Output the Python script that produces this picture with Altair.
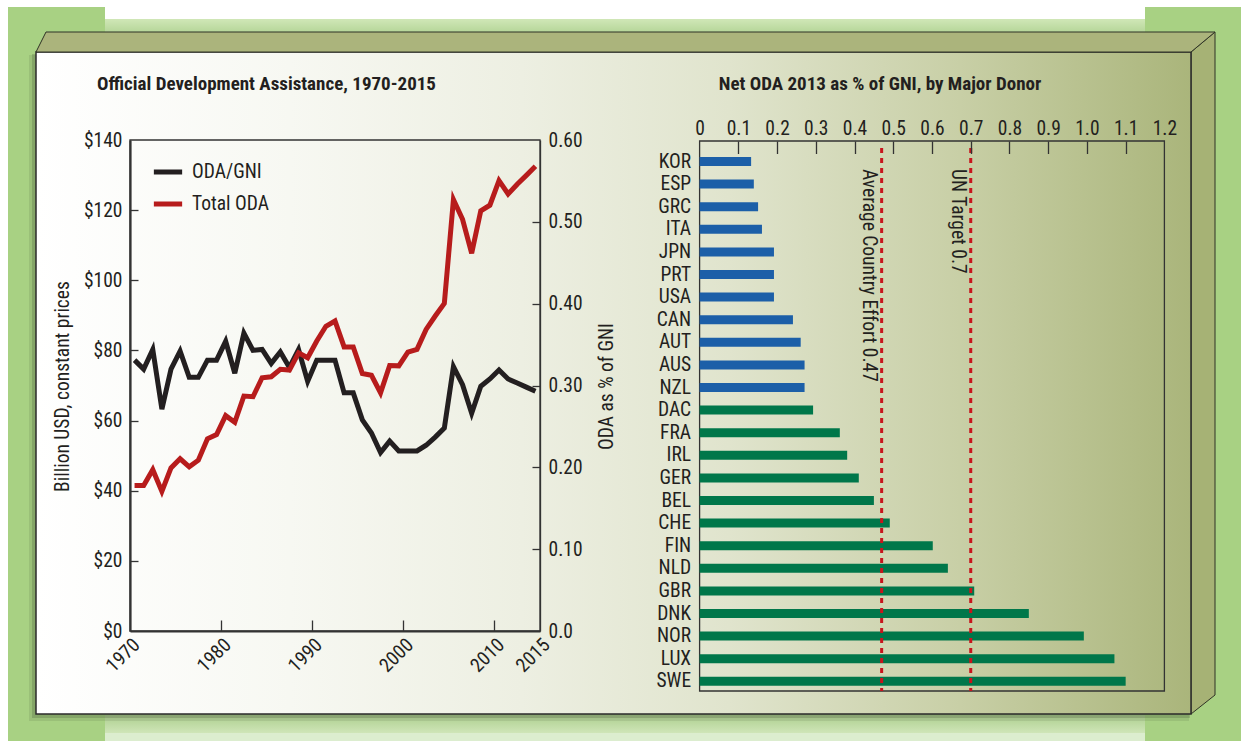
import altair as alt
import pandas as pd

# ---------------- chart values ----------------
YEARS = list(range(1970, 2015))
TOTAL_ODA = [41.5, 41.5, 46.0, 39.8, 46.5, 49.1, 46.8, 48.7, 54.8, 56.0,
             61.4, 59.5, 67.0, 66.8, 72.2, 72.5, 74.6, 74.4, 79.3, 77.9,
             82.7, 86.9, 88.4, 81.0, 81.0, 73.4, 72.9, 67.9, 75.7, 75.6,
             79.5, 80.3, 86.0, 89.8, 93.4, 123.0, 117.4, 107.7, 119.8, 121.4,
             128.4, 124.6, 127.4, 129.9, 132.5]
ODA_GNI = [0.331, 0.320, 0.344, 0.271, 0.320, 0.342, 0.310, 0.310, 0.331, 0.331,
           0.354, 0.315, 0.364, 0.343, 0.344, 0.327, 0.341, 0.322, 0.344, 0.305,
           0.331, 0.331, 0.331, 0.291, 0.291, 0.258, 0.242, 0.218, 0.232, 0.220,
           0.220, 0.220, 0.227, 0.237, 0.248, 0.323, 0.301, 0.266, 0.299, 0.308,
           0.319, 0.308, 0.303, 0.298, 0.293]
SERIES = ["ODA/GNI", "Total ODA"]
YEAR_TICKS = [1970, 1980, 1990, 2000, 2010, 2015]
USD_TICKS = [0, 20, 40, 60, 80, 100, 120, 140]
PCT_TICKS = [0.0, 0.1, 0.2, 0.3, 0.4, 0.5, 0.6]

DONORS = ["KOR", "ESP", "GRC", "ITA", "JPN", "PRT", "USA", "CAN", "AUT", "AUS", "NZL",
          "DAC", "FRA", "IRL", "GER", "BEL", "CHE", "FIN", "NLD", "GBR", "DNK", "NOR",
          "LUX", "SWE"]
NET_ODA_2013 = [0.133, 0.140, 0.151, 0.161, 0.192, 0.192, 0.192, 0.241, 0.261, 0.271,
                0.271, 0.293, 0.362, 0.381, 0.411, 0.450, 0.491, 0.602, 0.641, 0.709,
                0.850, 0.992, 1.071, 1.100]
DAC_VALUE = NET_ODA_2013[DONORS.index("DAC")]
GNI_TICKS = [0, 0.1, 0.2, 0.3, 0.4, 0.5, 0.6, 0.7, 0.8, 0.9, 1.0, 1.1, 1.2]
REF_VALUES = [0.47, 0.70]
REF_LABELS = ["Average Country Effort  0.47", "UN Target 0.7"]

TITLE_LEFT = "Official Development Assistance, 1970-2015"
TITLE_RIGHT = "Net ODA 2013 as % of GNI, by Major Donor"
Y_LEFT_TITLE = "Billion USD, constant prices"
Y_RIGHT_TITLE = "ODA as % of GNI"

# ---------------- layout & style ----------------
W, H = 1241, 741
FONT = "Liberation Sans Narrow, Roboto Condensed, DejaVu Sans Condensed, Arial Narrow, sans-serif"
INK = "#231f20"
FRAME = "#333333"
BLACK_LINE = "#231f20"
RED_LINE = "#b71c1c"
BLUE = "#1c5fa8"
GREEN = "#00774a"
REF_RED = "#c8151d"
LABEL_SIZE = 19.5
TITLE_SIZE = 19

LX0, LX1, LY0, LY1 = 130, 540, 140, 631          # left plot box
RX0, RX1, RY0, RY1 = 699.6, 1164.4, 141, 691     # right plot box

year_scale = alt.Scale(domain=[1970, 2015], range=[LX0, LX1], nice=False, zero=False)
usd_scale = alt.Scale(domain=[0, 140], range=[LY1, LY0], nice=False, zero=False)
pct_scale = alt.Scale(domain=[0, 0.6], range=[LY1, LY0], nice=False, zero=False)
gni_scale = alt.Scale(domain=[0, 1.2], range=[RX0, RX1], nice=False, zero=False)
donor_scale = alt.Scale(range=[150.2, 692.6], paddingInner=0.6, paddingOuter=0.3)


def ax(**kw):
    base = dict(grid=False, zindex=1, labelFont=FONT, labelColor=INK, labelFontSize=LABEL_SIZE,
                labelFlush=False, labelOverlap=False, titleFont=FONT, titleColor=INK,
                tickColor=FRAME, tickWidth=1.3, domainColor=FRAME)
    base.update(kw)
    return alt.Axis(**base)


bottom_axis = ax(orient="bottom", offset=LY1 - H, values=YEAR_TICKS, format="d",
                 labelAngle=315, labelPadding=4, ticks=False, tickSize=0,
                 domain=True, domainWidth=2.2, title=None)
left_axis = ax(orient="left", offset=-LX0, values=USD_TICKS, format="$.0f",
               labelPadding=8, ticks=False, tickSize=0, domain=True, domainWidth=2.2,
               title=Y_LEFT_TITLE, titleFontSize=LABEL_SIZE, titleFontWeight="normal",
               titleAngle=270, titleBaseline="bottom", titleAlign="center",
               titleX=-58, titleY=386)
right_axis = ax(orient="right", offset=LX1 - W, values=PCT_TICKS,
                labelExpr="datum.value == 0 ? '0.0' : format(datum.value, '.2f')",
                labelPadding=8, ticks=False, tickSize=0, domain=True, domainWidth=1.3,
                title=Y_RIGHT_TITLE, titleFontSize=LABEL_SIZE, titleFontWeight="normal",
                titleAngle=270, titleBaseline="bottom", titleAlign="center",
                titleX=76, titleY=386)
in_bottom = ax(orient="bottom", offset=LY1 - 11 - H, values=YEAR_TICKS[1:-1],
               labels=False, domain=False, tickSize=11, title=None)
in_left = ax(orient="left", offset=-(LX0 + 8), values=USD_TICKS[1:-1],
             labels=False, domain=False, tickSize=8, title=None)
in_right = ax(orient="right", offset=(LX1 - 8) - W, values=PCT_TICKS[1:-1],
              labels=False, domain=False, tickSize=8, title=None)
top_axis = ax(orient="top", offset=-RY0, values=GNI_TICKS,
              labelExpr="datum.value == 0 ? '0' : format(datum.value, '.1f')",
              labelPadding=3, ticks=False, tickSize=0, domain=False, title=None)
in_top = ax(orient="top", offset=-(RY0 + 12.5), values=GNI_TICKS[1:-1],
            labels=False, domain=False, tickSize=12.5, title=None)
donor_axis = ax(orient="left", offset=-RX0, labelPadding=9, ticks=False, tickSize=0,
                domain=False, title=None, labelAlign="right")

dummy = pd.DataFrame({"k": [0]})


def box(x0, x1, y0, y1, **mk):
    return alt.Chart(dummy).mark_rect(**mk).encode(
        x=alt.value(x0), x2=alt.value(x1), y=alt.value(y0), y2=alt.value(y1))


def grad(stops, vertical=False):
    return alt.LinearGradient(
        gradient="linear",
        stops=[alt.GradientStop(offset=o, color=c) for o, c in stops],
        x1=0, y1=0, x2=0 if vertical else 1, y2=1 if vertical else 0)


def poly(df, **mk):
    return alt.Chart(df).mark_area(**mk).encode(
        x=alt.X("px:Q", scale=None, axis=None),
        y=alt.Y("top:Q", scale=None, axis=None),
        y2="bot:Q")


# ---------------- decoration (the 3D panel) ----------------
deco = [
    box(8, 105, 7, H, fill="#a8d183"),
    box(1145, W, 7, H, fill="#a8d183"),
    box(105, 1145, 19, 33, fill=grad([(0, "#d0e7b7"), (1, "#b4d597")], vertical=True)),
    box(105, 1145, 713, 733, fill=grad([(0, "#a9cd8a"), (1, "#cfe5b8")], vertical=True)),
    box(105, 1145, 733, H, fill="#dcedcf"),
    box(29, 1189, 55, 721, fill="#000000", opacity=0.08),
    box(32, 1190, 54, 718, fill="#000000", opacity=0.14),
    poly(pd.DataFrame({"px": [1191, 1215], "top": [52, 32], "bot": [714, 695]}),
         fill="#a6b275", stroke="#2f3326", strokeWidth=1),
    box(36, 1191, 52, 714,
        fill=grad([(0, "#ffffff"), (0.22, "#f7f8f2"), (0.42, "#edefe2"),
                   (0.6, "#e0e4cd"), (0.8, "#c8cfa6"), (1, "#aab57b")]),
        stroke="#2b2b2b", strokeWidth=1.5),
    poly(pd.DataFrame({"px": [36, 46, 1191, 1215], "top": [52, 32, 32, 32],
                       "bot": [52, 52, 52, 32]}),
         fill="#abb47c", stroke="#2f3326", strokeWidth=1),
]

# ---------------- titles ----------------
titles = [
    alt.Chart(pd.DataFrame({"t": [TITLE_LEFT]})).mark_text(
        align="left", baseline="alphabetic", font=FONT, fontSize=TITLE_SIZE,
        fontWeight="bold", color=INK).encode(x=alt.value(97), y=alt.value(90), text="t:N"),
    alt.Chart(pd.DataFrame({"t": [TITLE_RIGHT]})).mark_text(
        align="center", baseline="alphabetic", font=FONT, fontSize=TITLE_SIZE,
        fontWeight="bold", color=INK).encode(x=alt.value(880), y=alt.value(90), text="t:N"),
]

# ---------------- left panel: lines ----------------
ts = pd.DataFrame({"year": YEARS, "total": TOTAL_ODA, "gni": ODA_GNI})
legend = alt.Legend(orient="none", legendX=151, legendY=155, title=None,
                    symbolType="stroke", symbolStrokeWidth=5, symbolSize=800,
                    labelFont=FONT, labelFontSize=LABEL_SIZE, labelColor=INK,
                    rowPadding=5, labelOffset=7, padding=0, zindex=1)
color_scale = alt.Scale(domain=SERIES, range=[BLACK_LINE, RED_LINE])

left_frame = box(LX0, LX1, LY0, LY1, fill=None, stroke=FRAME, strokeWidth=1.3)

black = alt.Chart(ts).transform_calculate(
    t="datum.year + 0.5", series=f"'{SERIES[0]}'"
).mark_line(strokeWidth=5).encode(
    x=alt.X("t:Q", scale=year_scale, axis=in_bottom),
    y=alt.Y("gni:Q", scale=pct_scale, axis=right_axis),
    color=alt.Color("series:N", scale=color_scale, legend=legend),
)
red = alt.Chart(ts).transform_calculate(
    t="datum.year + 0.5", series=f"'{SERIES[1]}'"
).mark_line(strokeWidth=5).encode(
    x=alt.X("t:Q", scale=year_scale, axis=bottom_axis),
    y=alt.Y("total:Q", scale=usd_scale, axis=left_axis),
    color=alt.Color("series:N", scale=color_scale, legend=legend),
)
usd_ticks = alt.Chart(pd.DataFrame({"v": USD_TICKS})).mark_point(opacity=0).encode(
    y=alt.Y("v:Q", scale=usd_scale, axis=in_left))
pct_ticks = alt.Chart(pd.DataFrame({"v": PCT_TICKS})).mark_point(opacity=0).encode(
    y=alt.Y("v:Q", scale=pct_scale, axis=in_right))

# ---------------- right panel: bars ----------------
donors = pd.DataFrame({"country": DONORS, "value": NET_ODA_2013})
refs = pd.DataFrame({"value": REF_VALUES, "label": REF_LABELS})

right_frame = box(RX0, RX1, RY0, RY1, fill=None, stroke=FRAME, strokeWidth=1.3)

bars = alt.Chart(donors).mark_bar().encode(
    x=alt.X("value:Q", scale=gni_scale, axis=top_axis),
    y=alt.Y("country:N", scale=donor_scale, sort=DONORS, axis=donor_axis),
    color=alt.when(alt.datum.value >= DAC_VALUE).then(alt.value(GREEN)).otherwise(alt.value(BLUE)),
)
rules = alt.Chart(refs).mark_rule(color=REF_RED, strokeWidth=3, strokeDash=[5, 5]).encode(
    x=alt.X("value:Q", scale=gni_scale, axis=in_top),
    y=alt.value(148), y2=alt.value(RY1),
)
ref_text = alt.Chart(refs).mark_text(
    angle=90, align="left", baseline="top", dy=4, font=FONT, fontSize=LABEL_SIZE, color=INK
).encode(
    x=alt.X("value:Q", scale=gni_scale, axis=None),
    y=alt.value(169), text="label:N",
)

chart = alt.layer(
    *deco, *titles,
    left_frame, usd_ticks, pct_ticks, black, red,
    right_frame, bars, rules, ref_text,
).resolve_scale(
    x="independent", y="independent"
).properties(
    width=W, height=H, padding=0,
    autosize=alt.AutoSizeParams(type="none"), background="#ffffff",
).configure_view(stroke=None)

chart.save("out.html", embed_options={"renderer": "svg", "actions": False})
